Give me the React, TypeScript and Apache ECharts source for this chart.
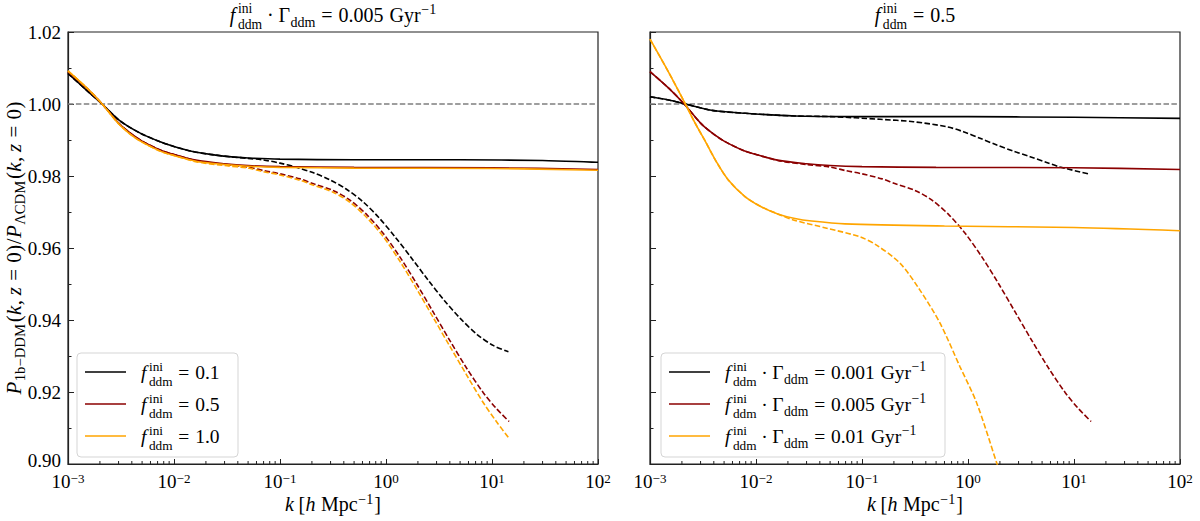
import React, { useEffect, useRef } from "react";
import * as echarts from "echarts";

const FONT = "'Liberation Serif', 'Times New Roman', serif";

const X_MIN = 0.001;
const X_MAX = 100;
const Y_MIN = 0.9;
const Y_MAX = 1.02;
const Y_STEP = 0.02;

const C_BLACK = "#000000";
const C_RED = "#8b0000";
const C_ORANGE = "#ffa500";

// ---------- Left panel: f_ddm^ini · Γ_ddm = 0.005 Gyr^-1 ----------
// f = 0.1 (black)
const L_BLACK_SOLID_K = [0.001, 0.0015, 0.0021, 0.0031, 0.0048, 0.0074, 0.01, 0.015, 0.022, 0.035, 0.05, 0.1, 0.5, 5, 30, 100];
const L_BLACK_SOLID_P = [1.0085, 1.0038, 1.0, 0.9953, 0.9919, 0.9895, 0.9882, 0.9868, 0.986, 0.9853, 0.985, 0.9847, 0.9845, 0.9845, 0.9843, 0.9838];
const L_BLACK_DASH_K = [0.001, 0.0015, 0.0021, 0.0031, 0.0048, 0.0074, 0.01, 0.015, 0.022, 0.035, 0.0501, 0.07, 0.1, 0.143, 0.204, 0.292, 0.417, 0.596, 0.851, 1.216, 1.738, 2.483, 3.548, 5.07, 7.244, 10.35, 14.29];
const L_BLACK_DASH_P = [1.0085, 1.0038, 1.0, 0.9953, 0.9919, 0.9895, 0.9882, 0.9868, 0.986, 0.9853, 0.9849, 0.98444, 0.98358, 0.98242, 0.98095, 0.97901, 0.97645, 0.97304, 0.96854, 0.96311, 0.95722, 0.95117, 0.94543, 0.94031, 0.93597, 0.93287, 0.93119];

// f = 0.5, f·Γ = 0.005 (dark red) — the same model appears in both panels
const RED_SOLID_K = [0.001, 0.0015, 0.0021, 0.003, 0.0038, 0.005, 0.0077, 0.01, 0.016, 0.03, 0.05, 0.1, 0.5, 10, 100];
const RED_SOLID_P = [1.009, 1.0044, 1.0, 0.9947, 0.9921, 0.9897, 0.987, 0.986, 0.9844, 0.9834, 0.9829, 0.9826, 0.9824, 0.9823, 0.9818];
const RED_DASH_K = [0.001, 0.0015, 0.0021, 0.003, 0.0038, 0.005, 0.0077, 0.01, 0.016, 0.03, 0.05, 0.07, 0.1, 0.155, 0.204, 0.316, 0.457, 0.661, 0.944, 1.36, 1.95, 2.8, 4.02, 5.77, 8.28, 11, 14.5];
const RED_DASH_P = [1.009, 1.0044, 1.0, 0.9947, 0.9921, 0.9897, 0.987, 0.986, 0.9843, 0.9832, 0.9825, 0.9815, 0.9806, 0.9792, 0.9779, 0.976, 0.9733, 0.9692, 0.964, 0.9574, 0.95, 0.9421, 0.9342, 0.9266, 0.9198, 0.9154, 0.9118];

// f = 1.0 (orange)
const L_ORANGE_SOLID_K = [0.001, 0.0015, 0.0021, 0.003, 0.0038, 0.005, 0.0077, 0.01, 0.016, 0.03, 0.05, 0.1, 0.5, 10, 100];
const L_ORANGE_SOLID_P = [1.0092, 1.0045, 1.0, 0.9945, 0.9918, 0.9894, 0.9867, 0.9857, 0.9841, 0.9832, 0.9827, 0.9824, 0.9822, 0.9821, 0.9816];
const L_ORANGE_DASH_K = [0.001, 0.0015, 0.0021, 0.003, 0.0038, 0.005, 0.0077, 0.01, 0.016, 0.03, 0.05, 0.07, 0.1, 0.155, 0.204, 0.316, 0.457, 0.661, 0.944, 1.36, 1.95, 2.8, 4.02, 5.77, 8.28, 11, 14.5];
const L_ORANGE_DASH_P = [1.0092, 1.0045, 1.0, 0.9945, 0.9918, 0.9894, 0.9867, 0.9857, 0.984, 0.9829, 0.9822, 0.9812, 0.9803, 0.9788, 0.9775, 0.9755, 0.9727, 0.9684, 0.9631, 0.9562, 0.9486, 0.9406, 0.9326, 0.9247, 0.917, 0.9118, 0.9071];

// ---------- Right panel: f_ddm^ini = 0.5 ----------
// f·Γ = 0.001 (black)
const R_BLACK_SOLID_K = [0.001, 0.0015, 0.0021, 0.0038, 0.0079, 0.0233, 0.1, 1, 10, 100];
const R_BLACK_SOLID_P = [1.002, 1.0011, 1.0001, 0.99825, 0.99741, 0.99667, 0.9965, 0.99648, 0.9963, 0.996];
const R_BLACK_DASH_K = [0.001, 0.0015, 0.0021, 0.0038, 0.0079, 0.0233, 0.05, 0.148, 0.305, 0.629, 0.904, 1.3, 1.87, 2.68, 3.85, 5.52, 7.38, 14.2];
const R_BLACK_DASH_P = [1.002, 1.0011, 1.0001, 0.99825, 0.99741, 0.99667, 0.9965, 0.99575, 0.99508, 0.99369, 0.9923, 0.99047, 0.98861, 0.9869, 0.98536, 0.98375, 0.9825, 0.98047];

// f·Γ = 0.01 (orange)
const R_ORANGE_SOLID_K = [0.001, 0.0015, 0.00214, 0.00265, 0.0033, 0.00426, 0.00548, 0.00787, 0.0113, 0.01626, 0.0233, 0.0335, 0.069, 0.6, 10, 100];
const R_ORANGE_SOLID_P = [1.018, 1.0088, 1.0002, 0.9948, 0.9898, 0.9838, 0.9789, 0.9743, 0.9714, 0.9694, 0.9682, 0.9675, 0.9667, 0.9661, 0.9657, 0.9648];
const R_ORANGE_DASH_K = [0.001, 0.0015, 0.00214, 0.00265, 0.0033, 0.00426, 0.00548, 0.00787, 0.0113, 0.01626, 0.0225, 0.0465, 0.0957, 0.137, 0.228, 0.352, 0.545, 0.841, 1.21, 1.87, 2.1];
const R_ORANGE_DASH_P = [1.018, 1.0088, 1.0002, 0.9948, 0.9898, 0.9838, 0.9789, 0.9743, 0.9714, 0.9694, 0.9678, 0.9655, 0.9631, 0.9608, 0.9558, 0.9483, 0.9391, 0.927, 0.9169, 0.9002, 0.8957];

const LEFT_LEGEND_VALUES = ["0.1", "0.5", "1.0"];
const RIGHT_LEGEND_VALUES = ["0.001", "0.005", "0.01"];
const LEGEND_COLORS = [C_BLACK, C_RED, C_ORANGE];
const MINOR_MULTS = [2, 3, 4, 5, 6, 7, 8, 9];
const DECADE_EXPS = [-3, -2, -1, 0, 1];

// ---------- layout ----------
const W = 1200;
const H = 521;
const GRID_TOP = 32;
const GRID_BOTTOM = 464;
const LEFT_X0 = 68;
const LEFT_X1 = 598;
const RIGHT_X0 = 650;
const RIGHT_X1 = 1180;

type Tok = { t: string; it?: boolean; s?: number; rise?: number; gap?: number; stack?: boolean };

let measureCtx: CanvasRenderingContext2D | null = null;
function fontOf(it: boolean, s: number) {
  return `${it ? "italic " : ""}${s}px ${FONT}`;
}
function textWidth(t: string, it: boolean, s: number) {
  if (!measureCtx) measureCtx = document.createElement("canvas").getContext("2d");
  measureCtx!.font = fontOf(it, s);
  return measureCtx!.measureText(t).width;
}

// Lay out a list of math tokens; sizes, rises and gaps are given relative to a 1em base size
function mathEls(toks: Tok[], size: number, x: number, baseline: number, anchor: "left" | "center", color = "#000") {
  let cursor = 0;
  let lastStart = 0;
  let lastEnd = 0;
  const placed: { tk: Tok; s: number; start: number }[] = [];
  for (const tk of toks) {
    const s = (tk.s ?? 1) * size;
    const w = textWidth(tk.t, !!tk.it, s);
    let start: number;
    if (tk.stack) {
      start = lastStart;
      lastEnd = Math.max(lastEnd, start + w);
      cursor = lastEnd;
    } else {
      start = cursor + (tk.gap ?? 0) * size;
      lastStart = start;
      lastEnd = start + w;
      cursor = lastEnd;
    }
    placed.push({ tk, s, start });
  }
  const off = anchor === "center" ? -cursor / 2 : 0;
  return placed.map(({ tk, s, start }) => ({
    type: "text",
    x: x + off + start,
    y: baseline - (tk.rise ?? 0) * size - 0.34 * s,
    silent: true,
    style: {
      text: tk.t,
      fontFamily: FONT,
      fontSize: s,
      fontStyle: tk.it ? "italic" : "normal",
      fill: color,
      align: "left",
      verticalAlign: "middle",
      textAlign: "left",
      textVerticalAlign: "middle",
    },
  }));
}

const SS = 0.7;
const F_INI_DDM: Tok[] = [
  { t: "f", it: true },
  { t: "ini", s: 0.68, rise: 0.43, gap: 0.13 },
  { t: "ddm", s: 0.68, rise: -0.35, stack: true },
];
const GAMMA_DDM: Tok[] = [
  { t: "·", gap: 0.24 },
  { t: "Γ", gap: 0.24 },
  { t: "ddm", s: SS, rise: -0.25, gap: 0.02 },
];
function eqTok(v: string): Tok[] {
  return [
    { t: "=", gap: 0.3 },
    { t: v, gap: 0.3 },
  ];
}
const GYR: Tok[] = [
  { t: "Gyr", gap: 0.3 },
  { t: "−1", s: SS, rise: 0.4, gap: 0.03 },
];

function lineSeries(k: number[], p: number[], color: string, dashed: boolean, idx: number) {
  return {
    type: "line",
    xAxisIndex: idx,
    yAxisIndex: idx,
    data: k.map((kk, i) => [kk, p[i]]),
    showSymbol: false,
    symbol: "none",
    smooth: 0.3,
    clip: true,
    silent: true,
    lineStyle: { color, width: 1.6, type: dashed ? [5.5, 2.4] : "solid" },
  };
}

function refLine(idx: number) {
  return {
    type: "line",
    xAxisIndex: idx,
    yAxisIndex: idx,
    data: [
      [X_MIN, 1],
      [X_MAX, 1],
    ],
    showSymbol: false,
    symbol: "none",
    silent: true,
    lineStyle: { color: "#7f7f7f", width: 1.3, type: [5.5, 2.4] },
    z: 1,
  };
}

function minorTickSeries(idx: number) {
  const data: number[][] = [];
  for (const e of DECADE_EXPS) for (const m of MINOR_MULTS) data.push([m * Math.pow(10, e), Y_MIN]);
  return {
    type: "custom",
    xAxisIndex: idx,
    yAxisIndex: idx,
    silent: true,
    data,
    encode: { x: 0, y: 1 },
    renderItem: (_params: any, api: any) => {
      const p = api.coord([api.value(0), Y_MIN]);
      return {
        type: "line",
        shape: { x1: p[0], y1: p[1], x2: p[0], y2: p[1] - 3 },
        style: { stroke: "#222", lineWidth: 1 },
      };
    },
    z: 5,
  };
}

function xAxisOpt(idx: number) {
  return {
    type: "log",
    logBase: 10,
    gridIndex: idx,
    min: X_MIN,
    max: X_MAX,
    splitNumber: 5,
    axisLine: { show: true, lineStyle: { color: "#222", width: 1.2 } },
    axisTick: { show: true, inside: true, length: 5, lineStyle: { color: "#222", width: 1 } },
    splitLine: { show: false },
    axisLabel: {
      margin: 8,
      hideOverlap: false,
      showMinLabel: true,
      showMaxLabel: true,
      formatter: (v: number) => {
        const e = Math.round(Math.log10(v));
        return `{b|10}{s|${e < 0 ? "−" + -e : e}}`;
      },
      rich: {
        b: { fontFamily: FONT, fontSize: 19, color: "#000", lineHeight: 19 },
        s: { fontFamily: FONT, fontSize: 13, color: "#000", lineHeight: 11, verticalAlign: "top" },
      },
    },
  };
}

function yAxisOpt(idx: number, labels: boolean) {
  return {
    type: "value",
    gridIndex: idx,
    min: Y_MIN,
    max: Y_MAX,
    interval: Y_STEP,
    axisLine: { show: true, lineStyle: { color: "#222", width: 1.2 } },
    axisTick: { show: true, inside: true, length: 6, lineStyle: { color: "#222", width: 1 } },
    minorTick: { show: true, splitNumber: 2, length: 3.5, lineStyle: { color: "#222", width: 1 } },
    splitLine: { show: false },
    minorSplitLine: { show: false },
    axisLabel: {
      show: labels,
      margin: 7,
      fontFamily: FONT,
      fontSize: 19,
      lineHeight: 14,
      color: "#000",
      formatter: (v: number) => (Math.abs(v - Y_MIN) < 1e-9 ? `{lo|${v.toFixed(2)}}` : v.toFixed(2)),
      rich: {
        lo: { fontFamily: FONT, fontSize: 19, color: "#000", lineHeight: 14, padding: [0, 0, 7, 0] },
      },
    },
  };
}

function legendEls(x0: number, w: number, values: string[], withGamma: boolean) {
  const top = 353;
  const h = 104;
  const rows = [372, 404, 436];
  const els: any[] = [
    {
      type: "rect",
      shape: { x: x0, y: top, width: w, height: h, r: 4 },
      style: { fill: "rgba(255,255,255,0.8)", stroke: "#d5d5d5", lineWidth: 1 },
      silent: true,
      z: 50,
    },
  ];
  rows.forEach((ry, i) => {
    els.push({
      type: "line",
      shape: { x1: x0 + 8, y1: ry, x2: x0 + 49, y2: ry },
      style: { stroke: LEGEND_COLORS[i], lineWidth: 1.6 },
      silent: true,
      z: 51,
    });
    const toks: Tok[] = withGamma
      ? [...F_INI_DDM, ...GAMMA_DDM, ...eqTok(values[i]), ...GYR]
      : [...F_INI_DDM, ...eqTok(values[i])];
    mathEls(toks, 19.5, x0 + 64, ry + 7, "left").forEach((e: any) => els.push({ ...e, z: 51 }));
  });
  return els;
}

function buildOption() {
  const leftCx = (LEFT_X0 + LEFT_X1) / 2;
  const rightCx = (RIGHT_X0 + RIGHT_X1) / 2;
  const midY = (GRID_TOP + GRID_BOTTOM) / 2;

  const graphic: any[] = [];
  // titles
  graphic.push(...mathEls([...F_INI_DDM, ...GAMMA_DDM, ...eqTok("0.005"), ...GYR], 20, leftCx, 22, "center"));
  graphic.push(...mathEls([...F_INI_DDM, ...eqTok("0.5")], 20, rightCx, 22, "center"));
  // x labels
  const xl: Tok[] = [
    { t: "k", it: true },
    { t: "[", gap: 0.22 },
    { t: "h", it: true, gap: 0.02 },
    { t: "Mpc", gap: 0.28 },
    { t: "−1", s: SS, rise: 0.33, gap: 0.03 },
    { t: "]", gap: 0.05 },
  ];
  graphic.push(...mathEls(xl, 20, leftCx, 511, "center"));
  graphic.push(...mathEls(xl, 20, rightCx, 511, "center"));
  // y label (rotated)
  const yl: Tok[] = [
    { t: "P", it: true },
    { t: "1b−DDM", s: SS, rise: -0.2, gap: 0.02 },
    { t: "(", gap: 0.08 },
    { t: "k", it: true, gap: 0.02 },
    { t: ",", gap: 0.02 },
    { t: "z", it: true, gap: 0.22 },
    { t: "=", gap: 0.3 },
    { t: "0", gap: 0.3 },
    { t: ")", gap: 0.02 },
    { t: "/", gap: 0.02 },
    { t: "P", it: true, gap: 0.02 },
    { t: "ΛCDM", s: SS, rise: -0.2, gap: 0.02 },
    { t: "(", gap: 0.08 },
    { t: "k", it: true, gap: 0.02 },
    { t: ",", gap: 0.02 },
    { t: "z", it: true, gap: 0.22 },
    { t: "=", gap: 0.3 },
    { t: "0", gap: 0.3 },
    { t: ")", gap: 0.02 },
  ];
  graphic.push({
    type: "group",
    x: 21,
    y: midY,
    rotation: Math.PI / 2,
    silent: true,
    children: mathEls(yl, 21, 0, 0, "center"),
  });
  // legends
  graphic.push(...legendEls(LEFT_X0 + 9, 161, LEFT_LEGEND_VALUES, false));
  graphic.push(...legendEls(RIGHT_X0 + 11, 284, RIGHT_LEGEND_VALUES, true));

  return {
    animation: false,
    backgroundColor: "#ffffff",
    grid: [
      { left: LEFT_X0, right: W - LEFT_X1, top: GRID_TOP, bottom: H - GRID_BOTTOM, show: true, borderColor: "#222", borderWidth: 1.2, backgroundColor: "transparent" },
      { left: RIGHT_X0, right: W - RIGHT_X1, top: GRID_TOP, bottom: H - GRID_BOTTOM, show: true, borderColor: "#222", borderWidth: 1.2, backgroundColor: "transparent" },
    ],
    xAxis: [xAxisOpt(0), xAxisOpt(1)],
    yAxis: [yAxisOpt(0, true), yAxisOpt(1, false)],
    series: [
      refLine(0),
      refLine(1),
      minorTickSeries(0),
      minorTickSeries(1),
      lineSeries(L_BLACK_DASH_K, L_BLACK_DASH_P, C_BLACK, true, 0),
      lineSeries(L_BLACK_SOLID_K, L_BLACK_SOLID_P, C_BLACK, false, 0),
      lineSeries(RED_DASH_K, RED_DASH_P, C_RED, true, 0),
      lineSeries(RED_SOLID_K, RED_SOLID_P, C_RED, false, 0),
      lineSeries(L_ORANGE_DASH_K, L_ORANGE_DASH_P, C_ORANGE, true, 0),
      lineSeries(L_ORANGE_SOLID_K, L_ORANGE_SOLID_P, C_ORANGE, false, 0),
      lineSeries(R_BLACK_DASH_K, R_BLACK_DASH_P, C_BLACK, true, 1),
      lineSeries(R_BLACK_SOLID_K, R_BLACK_SOLID_P, C_BLACK, false, 1),
      lineSeries(RED_DASH_K, RED_DASH_P, C_RED, true, 1),
      lineSeries(RED_SOLID_K, RED_SOLID_P, C_RED, false, 1),
      lineSeries(R_ORANGE_DASH_K, R_ORANGE_DASH_P, C_ORANGE, true, 1),
      lineSeries(R_ORANGE_SOLID_K, R_ORANGE_SOLID_P, C_ORANGE, false, 1),
    ],
    graphic,
  };
}

export default function App() {
  const ref = useRef<HTMLDivElement>(null);
  useEffect(() => {
    if (!ref.current) return;
    const chart = echarts.init(ref.current, undefined, { renderer: "svg", width: W, height: H });
    chart.setOption(buildOption() as any);
    return () => chart.dispose();
  }, []);
  return (
    <div
      ref={ref}
      style={{ position: "fixed", left: 0, top: 0, width: W, height: H, background: "#fff" }}
    />
  );
}
